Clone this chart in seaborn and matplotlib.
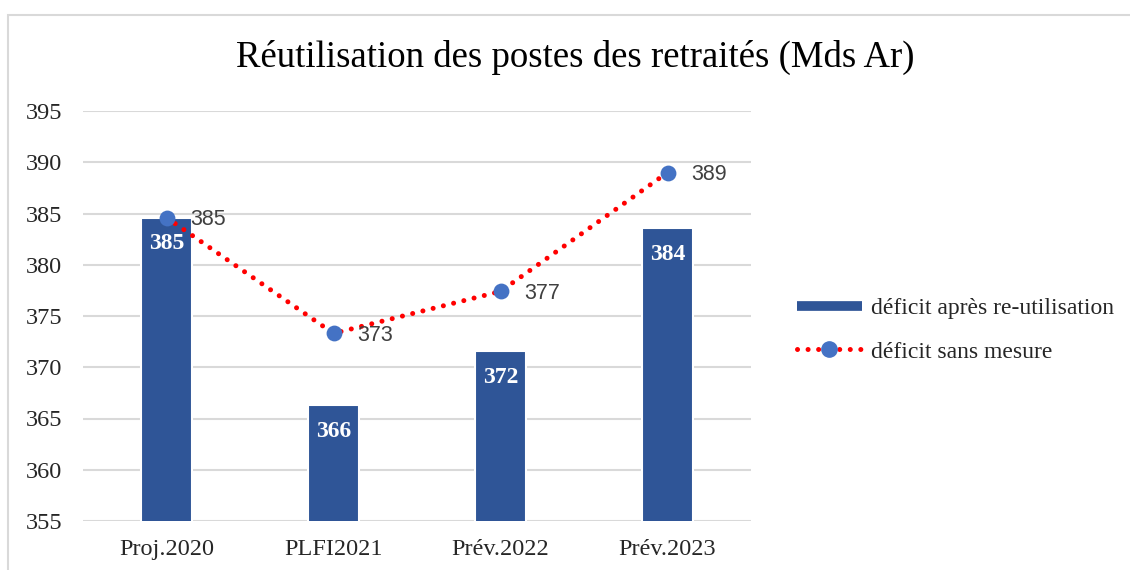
import numpy as np
import pandas as pd
import matplotlib
matplotlib.use("Agg")
import matplotlib.pyplot as plt
import seaborn as sns
from matplotlib.patches import Rectangle
from matplotlib.lines import Line2D

categories = ["Proj.2020", "PLFI2021", "Prév.2022", "Prév.2023"]
deficit_apres = [384.6, 366.3, 371.6, 383.6]
deficit_sans = [384.6, 373.3, 377.4, 389.0]
yticks = [355, 360, 365, 370, 375, 380, 385, 390, 395]
title = "Réutilisation des postes des retraités (Mds Ar)"
legend_labels = ["déficit après re-utilisation", "déficit sans mesure"]

sns.set_theme(style="white")
plt.rcParams["font.family"] = ["Liberation Serif", "DejaVu Serif"]

BAR = "#2F5597"
MARK = "#4472C4"
RED = "#FF0000"
DOTS = (0, (0.01, 2.1))

W, H = 1130, 570
fig = plt.figure(figsize=(W / 100, H / 100), dpi=100)
ax = fig.add_axes([83 / W, 1 - 521 / H, (751 - 83) / W, (521 - 111) / H])

df = pd.DataFrame({"cat": categories, "apres": deficit_apres, "sans": deficit_sans})

sns.barplot(data=df, x="cat", y="apres", color=BAR, width=0.31, ax=ax,
            edgecolor="white", linewidth=1.5, saturation=1, zorder=2)
ax.set_ylim(355, 395)
ax.set_yticks(yticks)
ax.set_xlim(-0.5, len(categories) - 0.5)
ax.grid(axis="y", color="#d9d9d9", linewidth=1.5, zorder=0)
ax.set_axisbelow(True)
for s in ax.spines.values():
    s.set_visible(False)
ax.tick_params(axis="y", length=0, pad=15, labelsize=17.5)
ax.tick_params(axis="x", length=0, pad=13, labelsize=17.5)

# bar labels
for i, v in enumerate(deficit_apres):
    ax.annotate(f"{v:.0f}", (i, v), xytext=(0, -19), textcoords="offset points",
                ha="center", va="center", color="white", fontsize=17,
                fontweight="bold", zorder=5)

# dotted line + markers
sns.lineplot(data=df, x="cat", y="sans", color=RED, linewidth=3.6, ax=ax,
             sort=False, zorder=3, legend=False)
line = ax.lines[-1]
line.set_linestyle(DOTS)
line.set_dash_capstyle("round")

sns.scatterplot(data=df, x="cat", y="sans", color=MARK, s=130, edgecolor=MARK,
                linewidth=0, ax=ax, zorder=4, legend=False)
ax.set_xlabel("")
ax.set_ylabel("")

for i, v in enumerate(deficit_sans):
    ax.annotate(f"{v:.0f}", (i, v), xytext=(17, -1.5), textcoords="offset points",
                ha="left", va="center", color="#404040", fontsize=15.5,
                family=["Liberation Sans", "DejaVu Sans"], zorder=5)

# title
fig.text(575 / W, 1 - 57 / H, title, ha="center", va="center", fontsize=26.5,
         color="#000000")

# legend
handles = [
    Line2D([0], [0], color=BAR, linewidth=7, solid_capstyle="butt"),
    Line2D([0], [0], color=RED, linewidth=3.6, linestyle=DOTS,
           dash_capstyle="round", marker="o", markersize=11,
           markerfacecolor=MARK, markeredgecolor=MARK),
]
fig.legend(handles, legend_labels, loc="center left",
           bbox_to_anchor=(785 / W, 1 - 330 / H), frameon=False, fontsize=17,
           handlelength=2.75, handletextpad=0.38, labelspacing=0.95,
           borderpad=0)

# chart border (left and top visible, extends beyond right/bottom)
fig.patches.append(Rectangle((8 / W, -0.01), 1.0, 1 - 15 / H + 0.01,
                             transform=fig.transFigure, fill=False,
                             edgecolor="#d9d9d9", linewidth=1.5))

fig.savefig("out.png", dpi=100)
